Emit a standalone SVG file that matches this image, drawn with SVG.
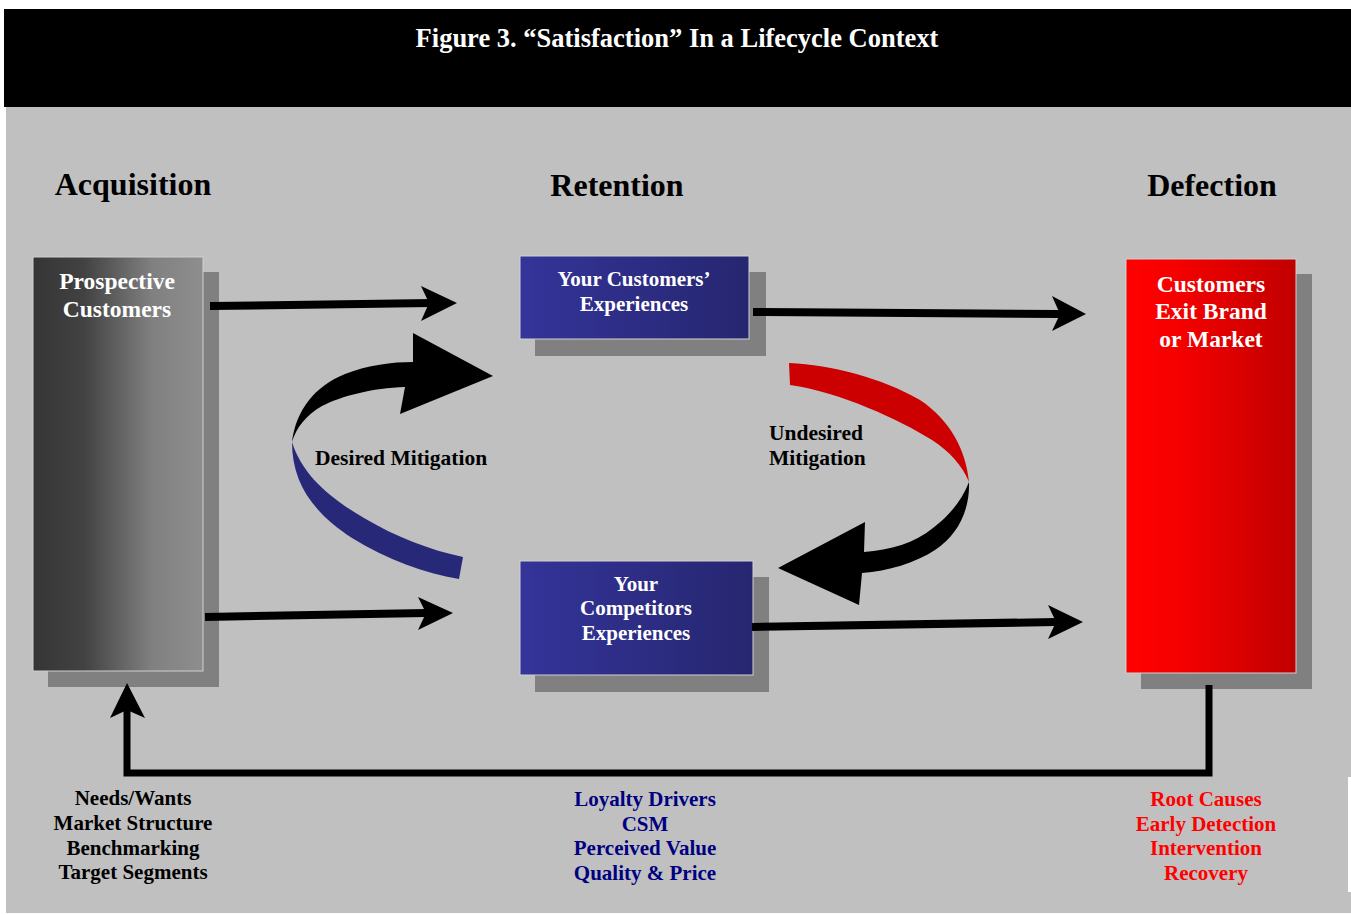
<svg xmlns="http://www.w3.org/2000/svg" width="1351" height="915" viewBox="0 0 1351 915">
  <defs>
    <linearGradient id="gradGray" x1="0" y1="0" x2="1" y2="0">
      <stop offset="0" stop-color="#353535"/>
      <stop offset="0.3" stop-color="#424242"/>
      <stop offset="0.7" stop-color="#808080"/>
      <stop offset="1" stop-color="#8e8e8e"/>
    </linearGradient>
    <linearGradient id="gradBlue" x1="0" y1="0" x2="1" y2="0">
      <stop offset="0" stop-color="#34349a"/>
      <stop offset="1" stop-color="#262670"/>
    </linearGradient>
    <linearGradient id="gradRed" x1="0" y1="0" x2="1" y2="0">
      <stop offset="0" stop-color="#ff0000"/>
      <stop offset="0.3" stop-color="#f60000"/>
      <stop offset="1" stop-color="#c00000"/>
    </linearGradient>
  </defs>
  <style>
    .serif { font-family: "Liberation Serif", "Times New Roman", serif; font-weight: bold; }
    .title { font-size: 26.5px; fill: #ffffff; }
    .head { font-size: 32px; fill: #000000; }
    .boxLabel { font-size: 23.5px; fill: #ffffff; }
    .midLabel { font-size: 21px; fill: #ffffff; }
    .note { font-size: 21px; }
    .loop { font-size: 21.5px; }
    .shadow { fill: #808080; }
    .edge { stroke: #d0d0d0; stroke-width: 1; }
    .shaft { stroke: #000000; stroke-width: 8; fill: none; }
    .tip { fill: #000000; }
  </style>

  <!-- page -->
  <rect x="0" y="0" width="1351" height="915" fill="#ffffff"/>
  <rect x="6" y="107" width="1345" height="806" fill="#c0c0c0"/>
  <rect x="1348" y="777" width="3" height="115" fill="#ffffff"/>

  <!-- title band -->
  <g id="title">
    <rect x="4" y="9" width="1347" height="98" fill="#000000"/>
    <text class="serif title" x="677" y="47" text-anchor="middle">Figure 3. “Satisfaction” In a Lifecycle Context</text>
  </g>

  <!-- stage headings -->
  <g id="headings" class="serif head" text-anchor="middle">
    <text x="133" y="195">Acquisition</text>
    <text x="617" y="196">Retention</text>
    <text x="1212" y="196">Defection</text>
  </g>

  <!-- nodes -->
  <g id="prospective">
    <rect class="shadow" x="48" y="272" width="171" height="415"/>
    <rect class="edge" x="33" y="257" width="170" height="414" fill="url(#gradGray)"/>
    <text class="serif boxLabel" text-anchor="middle" x="117" y="289">Prospective</text>
    <text class="serif boxLabel" text-anchor="middle" x="117" y="317">Customers</text>
  </g>

  <g id="customerExperiences">
    <rect class="shadow" x="535" y="272" width="231" height="84"/>
    <rect class="edge" x="520" y="256" width="229" height="83" fill="url(#gradBlue)"/>
    <text class="serif midLabel" text-anchor="middle" x="634" y="286">Your Customers’</text>
    <text class="serif midLabel" text-anchor="middle" x="634" y="311">Experiences</text>
  </g>

  <g id="competitorExperiences">
    <rect class="shadow" x="535" y="577" width="234" height="115"/>
    <rect class="edge" x="520" y="561" width="233" height="114" fill="url(#gradBlue)"/>
    <text class="serif midLabel" text-anchor="middle" x="636" y="591">Your</text>
    <text class="serif midLabel" text-anchor="middle" x="636" y="615">Competitors</text>
    <text class="serif midLabel" text-anchor="middle" x="636" y="640">Experiences</text>
  </g>

  <g id="exit">
    <rect class="shadow" x="1141" y="274" width="171" height="415"/>
    <rect class="edge" x="1126" y="259" width="170" height="414" fill="url(#gradRed)"/>
    <text class="serif boxLabel" text-anchor="middle" x="1211" y="292">Customers</text>
    <text class="serif boxLabel" text-anchor="middle" x="1211" y="319">Exit Brand</text>
    <text class="serif boxLabel" text-anchor="middle" x="1211" y="347">or Market</text>
  </g>

  <!-- connectors -->
  <g id="connectors">
    <!-- straight flows -->
    <line class="shaft" x1="210" y1="306" x2="432" y2="303"/>
    <polygon class="tip" points="421,286 457,303 421,321 429,303"/>

    <line class="shaft" x1="753" y1="312" x2="1060" y2="314"/>
    <polygon class="tip" points="1052,296 1086,314 1052,331 1060,314"/>

    <line class="shaft" x1="205" y1="617" x2="426" y2="613"/>
    <polygon class="tip" points="418,597 453,613 418,630 426,613"/>

    <line class="shaft" x1="752" y1="627" x2="1056" y2="622"/>
    <polygon class="tip" points="1048,605 1083,622 1048,639 1056,622"/>

    <!-- return loop from defection back to acquisition -->
    <polyline points="1209,685 1209,773 127,773 127,710" fill="none" stroke="#000000" stroke-width="7" stroke-linejoin="miter"/>
    <polygon class="tip" points="110,718 127,683 145,718 127,710"/>

    <!-- desired mitigation: twisted ribbon arrow -->
    <path d="M292,442 C296,410 315,386 345,374 C368,365 392,362 413,362 L413,333 L493,376 L400,414 L405,387 C372,388 342,396 322,406 C306,415 296,428 292,442 Z" fill="#000000"/>
    <path d="M292,442 C292,482 312,512 352,538 C387,560 425,573 459,579 L463,557 C430,550 396,537 364,518 C328,497 302,474 292,442 Z" fill="#282878"/>

    <!-- undesired mitigation: twisted ribbon arrow -->
    <path d="M789,363 C832,365 882,378 920,400 C950,420 966,450 969,482 C962,465 950,452 932,440 C900,420 840,392 790,385 Z" fill="#cc0000"/>
    <path d="M969,482 C970,510 958,535 935,550 C915,563 888,571 862,573 L859,605 L778,568 L865,522 L864,552 C890,550 915,543 933,528 C950,515 962,500 969,482 Z" fill="#000000"/>
  </g>

  <!-- loop labels -->
  <g id="loopLabels" class="serif loop" fill="#000000">
    <text x="315" y="465">Desired Mitigation</text>
    <text x="769" y="440">Undesired</text>
    <text x="769" y="465">Mitigation</text>
  </g>

  <!-- stage notes -->
  <g id="acquisitionNotes" class="serif note" fill="#000000" text-anchor="middle">
    <text x="133" y="805">Needs/Wants</text>
    <text x="133" y="830">Market Structure</text>
    <text x="133" y="855">Benchmarking</text>
    <text x="133" y="879">Target Segments</text>
  </g>
  <g id="retentionNotes" class="serif note" fill="#000080" text-anchor="middle">
    <text x="645" y="806">Loyalty Drivers</text>
    <text x="645" y="831">CSM</text>
    <text x="645" y="855">Perceived Value</text>
    <text x="645" y="880">Quality &amp; Price</text>
  </g>
  <g id="defectionNotes" class="serif note" fill="#ff0000" text-anchor="middle">
    <text x="1206" y="806">Root Causes</text>
    <text x="1206" y="831">Early Detection</text>
    <text x="1206" y="855">Intervention</text>
    <text x="1206" y="880">Recovery</text>
  </g>
</svg>
